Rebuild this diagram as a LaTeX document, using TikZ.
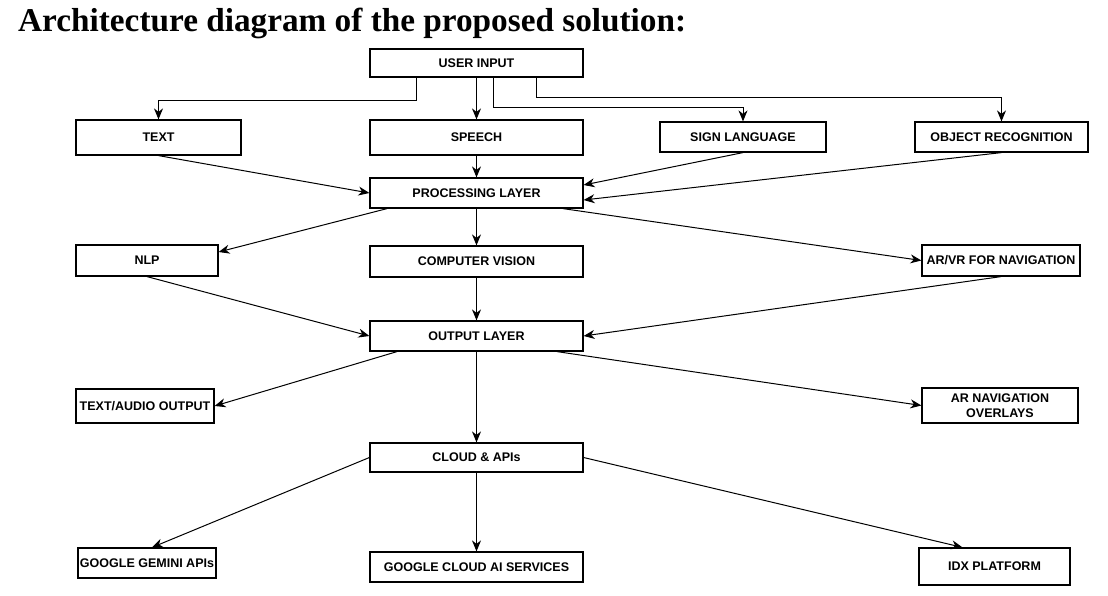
\documentclass[tikz,border=0pt]{standalone}
\usepackage{fontspec}
\setmainfont{Liberation Serif}
\newfontfamily\boxfont{Liberation Sans}
\usetikzlibrary{arrows.meta}
\tikzset{
  box/.style={draw=black, line width=1.2pt, fill=white, inner sep=0pt, align=center,
    font=\boxfont\bfseries\fontsize{12.5}{15}\selectfont},
  arr/.style={draw=black, line width=1pt, -{Stealth[length=11pt,width=9pt,inset=3.5pt]}},
}
\begin{document}
\begin{tikzpicture}[x=1pt,y=-1pt]
\useasboundingbox (0,0) rectangle (1108,595);
\node[anchor=base west, inner sep=0pt, font=\bfseries\fontsize{32}{36}\selectfont] (title) at (18,31) {\resizebox{668pt}{!}{Architecture diagram of the proposed solution:}};
% boxes
\node[box, minimum width=213pt, minimum height=28pt] (ui) at (476.5,63) {USER INPUT};
\node[box, minimum width=165pt, minimum height=35pt] (text) at (158.5,137.5) {TEXT};
\node[box, minimum width=213pt, minimum height=35pt] (speech) at (476.5,137.5) {SPEECH};
\node[box, minimum width=166pt, minimum height=30pt] (sign) at (743,137) {SIGN LANGUAGE};
\node[box, minimum width=173pt, minimum height=30pt] (obj) at (1001.5,137) {OBJECT RECOGNITION};
\node[box, minimum width=213pt, minimum height=30pt] (proc) at (476.5,193) {PROCESSING LAYER};
\node[box, minimum width=142pt, minimum height=31pt] (nlp) at (147,260.5) {NLP};
\node[box, minimum width=213pt, minimum height=31pt] (cv) at (476.5,261.5) {COMPUTER VISION};
\node[box, minimum width=158pt, minimum height=31pt] (arvr) at (1001,260.5) {AR/VR FOR NAVIGATION};
\node[box, minimum width=213pt, minimum height=30pt] (out) at (476.5,336) {OUTPUT LAYER};
\node[box, minimum width=138pt, minimum height=34pt] (ta) at (145,406) {TEXT/AUDIO OUTPUT};
\node[box, minimum width=156pt, minimum height=35pt] (arnav) at (1000,405.5) {AR NAVIGATION\\OVERLAYS};
\node[box, minimum width=213pt, minimum height=29pt] (cloud) at (476.5,457.5) {CLOUD \& APIs};
\node[box, minimum width=138pt, minimum height=30pt] (gem) at (147,563) {GOOGLE GEMINI APIs};
\node[box, minimum width=213pt, minimum height=30pt] (gcai) at (476.5,567) {GOOGLE CLOUD AI SERVICES};
\node[box, minimum width=151pt, minimum height=37pt] (idx) at (994.5,566.5) {IDX PLATFORM};
% connectors from user input
\draw[arr] ([xshift=-60.5pt]ui.south) -- ++(0,23) -| (text.north);
\draw[arr] (ui.south) -- (speech.north);
\draw[arr] ([xshift=16.5pt]ui.south) -- ++(0,30) -| (sign.north);
\draw[arr] ([xshift=59.5pt]ui.south) -- ++(0,20) -| (obj.north);
% to processing
\draw[arr] (text.south) -- (proc.west);
\draw[arr] (speech.south) -- (proc.north);
\draw[arr] (sign.south) -- ([yshift=8pt]proc.east);
\draw[arr] (obj.south) -- ([yshift=-7pt]proc.east);
% from processing
\draw[arr] ([xshift=-89.5pt]proc.south) -- ([yshift=8.5pt]nlp.east);
\draw[arr] (proc.south) -- (cv.north);
\draw[arr] ([xshift=86.5pt]proc.south) -- (arvr.west);
% to output
\draw[arr] (nlp.south) -- (out.west);
\draw[arr] (cv.south) -- (out.north);
\draw[arr] (arvr.south) -- (out.east);
% from output
\draw[arr] ([xshift=-79.5pt]out.south) -- (ta.east);
\draw[arr] (out.south) -- (cloud.north);
\draw[arr] ([xshift=80.5pt]out.south) -- (arnav.west);
% from cloud
\draw[arr] (cloud.west) -- ([xshift=5pt]gem.north);
\draw[arr] (cloud.south) -- (gcai.north);
\draw[arr] (cloud.east) -- ([xshift=-32pt]idx.north);
\end{tikzpicture}
\end{document}
